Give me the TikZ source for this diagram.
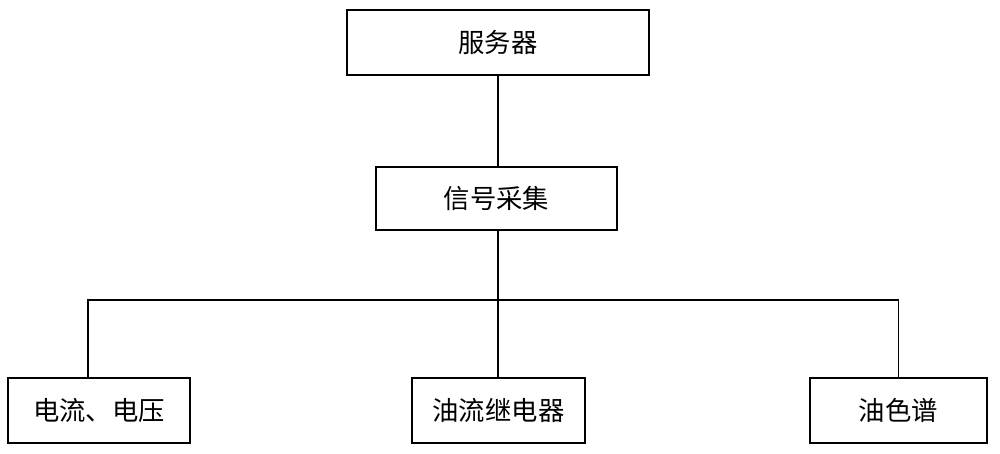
\documentclass[tikz,border=0pt]{standalone}
\usepackage{fontspec}
\setmainfont{Noto Sans CJK SC}
\begin{document}
\begin{tikzpicture}[x=0.02cm,y=-0.02cm,
  box/.style={draw,line width=0.8pt,inner sep=0pt,font=\fontsize{15}{17}\selectfont}]
\useasboundingbox (0,0) rectangle (1000,453);
\node[box,minimum width=302*0.02cm,minimum height=65*0.02cm] (s) at (498,42.5) {服务器};
\node[box,minimum width=241*0.02cm,minimum height=63*0.02cm] (c) at (496.5,198.5) {信号采集};
\node[box,minimum width=182*0.02cm,minimum height=65*0.02cm] (a) at (99,410.5) {电流、电压};
\node[box,minimum width=173*0.02cm,minimum height=65*0.02cm] (b) at (498.5,410.5) {油流继电器};
\node[box,minimum width=177*0.02cm,minimum height=65*0.02cm] (d) at (898.5,410.5) {油色谱};
\coordinate (j) at (498,300);
\coordinate (l) at (88,300);
\draw[line width=0.8pt] (s.south) -- (c.north -| s.south);
\draw[line width=0.8pt] (c.south -| j) -- (b.north -| j);
\draw[line width=0.8pt] (a.north -| l) -- (l) -| (d.north);
\end{tikzpicture}
\end{document}
